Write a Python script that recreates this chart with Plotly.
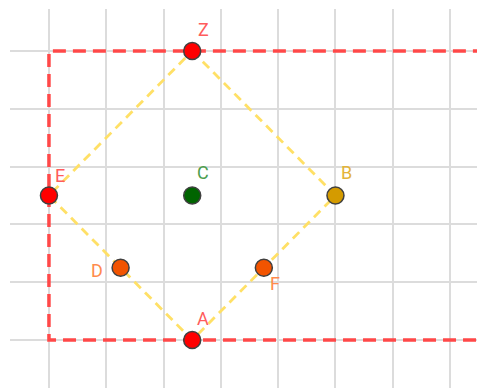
import plotly.graph_objects as go

# Points (grid units)
names = ["Z", "E", "C", "B", "D", "F", "A"]
xs = [2.5, 0.0, 2.5, 5.0, 1.25, 3.75, 2.5]
ys = [5.0, 2.5, 2.5, 2.5, 1.25, 1.25, 0.0]
point_colors = ["#FF0000", "#FF0000", "#006400", "#D49B00", "#F25400", "#F25400", "#FF0000"]
label_colors = ["#FF5C5C", "#FF5C5C", "#4E9E4E", "#E3B43A", "#FF8A4C", "#FF8A4C", "#FF5C5C"]
label_dx = [11, 11, 11, 11, -24, 11, 11]
label_dy = [22, 20, 23, 23, -3, -16, 22]

# Red dashed region boundary (open to the right)
rect_x = [8.5, 0.0, 0.0, 8.5]
rect_y = [0.0, 0.0, 5.0, 5.0]

# Yellow dashed quadrilateral Z-B-A-E
quad = ["Z", "B", "A", "E", "Z"]
quad_x = [xs[names.index(n)] for n in quad]
quad_y = [ys[names.index(n)] for n in quad]

fig = go.Figure()
fig.add_trace(go.Scatter(x=rect_x, y=rect_y, mode="lines",
                         line=dict(color="#FF4848", width=3.5, dash="13px,7px"),
                         hoverinfo="skip"))
fig.add_trace(go.Scatter(x=quad_x, y=quad_y, mode="lines",
                         line=dict(color="#FFE066", width=2.8, dash="9px,6px"),
                         hoverinfo="skip"))
fig.add_trace(go.Scatter(x=xs, y=ys, mode="markers",
                         marker=dict(size=17, color=point_colors,
                                     line=dict(color="#404040", width=1.5)),
                         hoverinfo="skip"))

for n, x, y, c, dx, dy in zip(names, xs, ys, label_colors, label_dx, label_dy):
    fig.add_annotation(x=x, y=y, text=n, showarrow=False,
                       xshift=dx, yshift=dy,
                       font=dict(size=18, color=c, family="Roboto, Arial, sans-serif"))

fig.update_xaxes(range=[-0.68, 7.47], dtick=1, tick0=0, showgrid=True,
                 gridcolor="#DCDCDC", gridwidth=2, zeroline=False,
                 showticklabels=False, showline=False, ticks="")
fig.update_yaxes(range=[-0.83, 5.727], dtick=1, tick0=0, showgrid=True,
                 gridcolor="#DCDCDC", gridwidth=2, zeroline=False,
                 showticklabels=False, showline=False, ticks="")
fig.update_layout(width=477, height=388, showlegend=False,
                  margin=dict(l=10, r=0, t=9, b=0),
                  plot_bgcolor="white", paper_bgcolor="white")

fig.write_html("out.html", config={"displayModeBar": False},
               post_script="document.body.style.margin='0';document.body.style.overflow='hidden';")
